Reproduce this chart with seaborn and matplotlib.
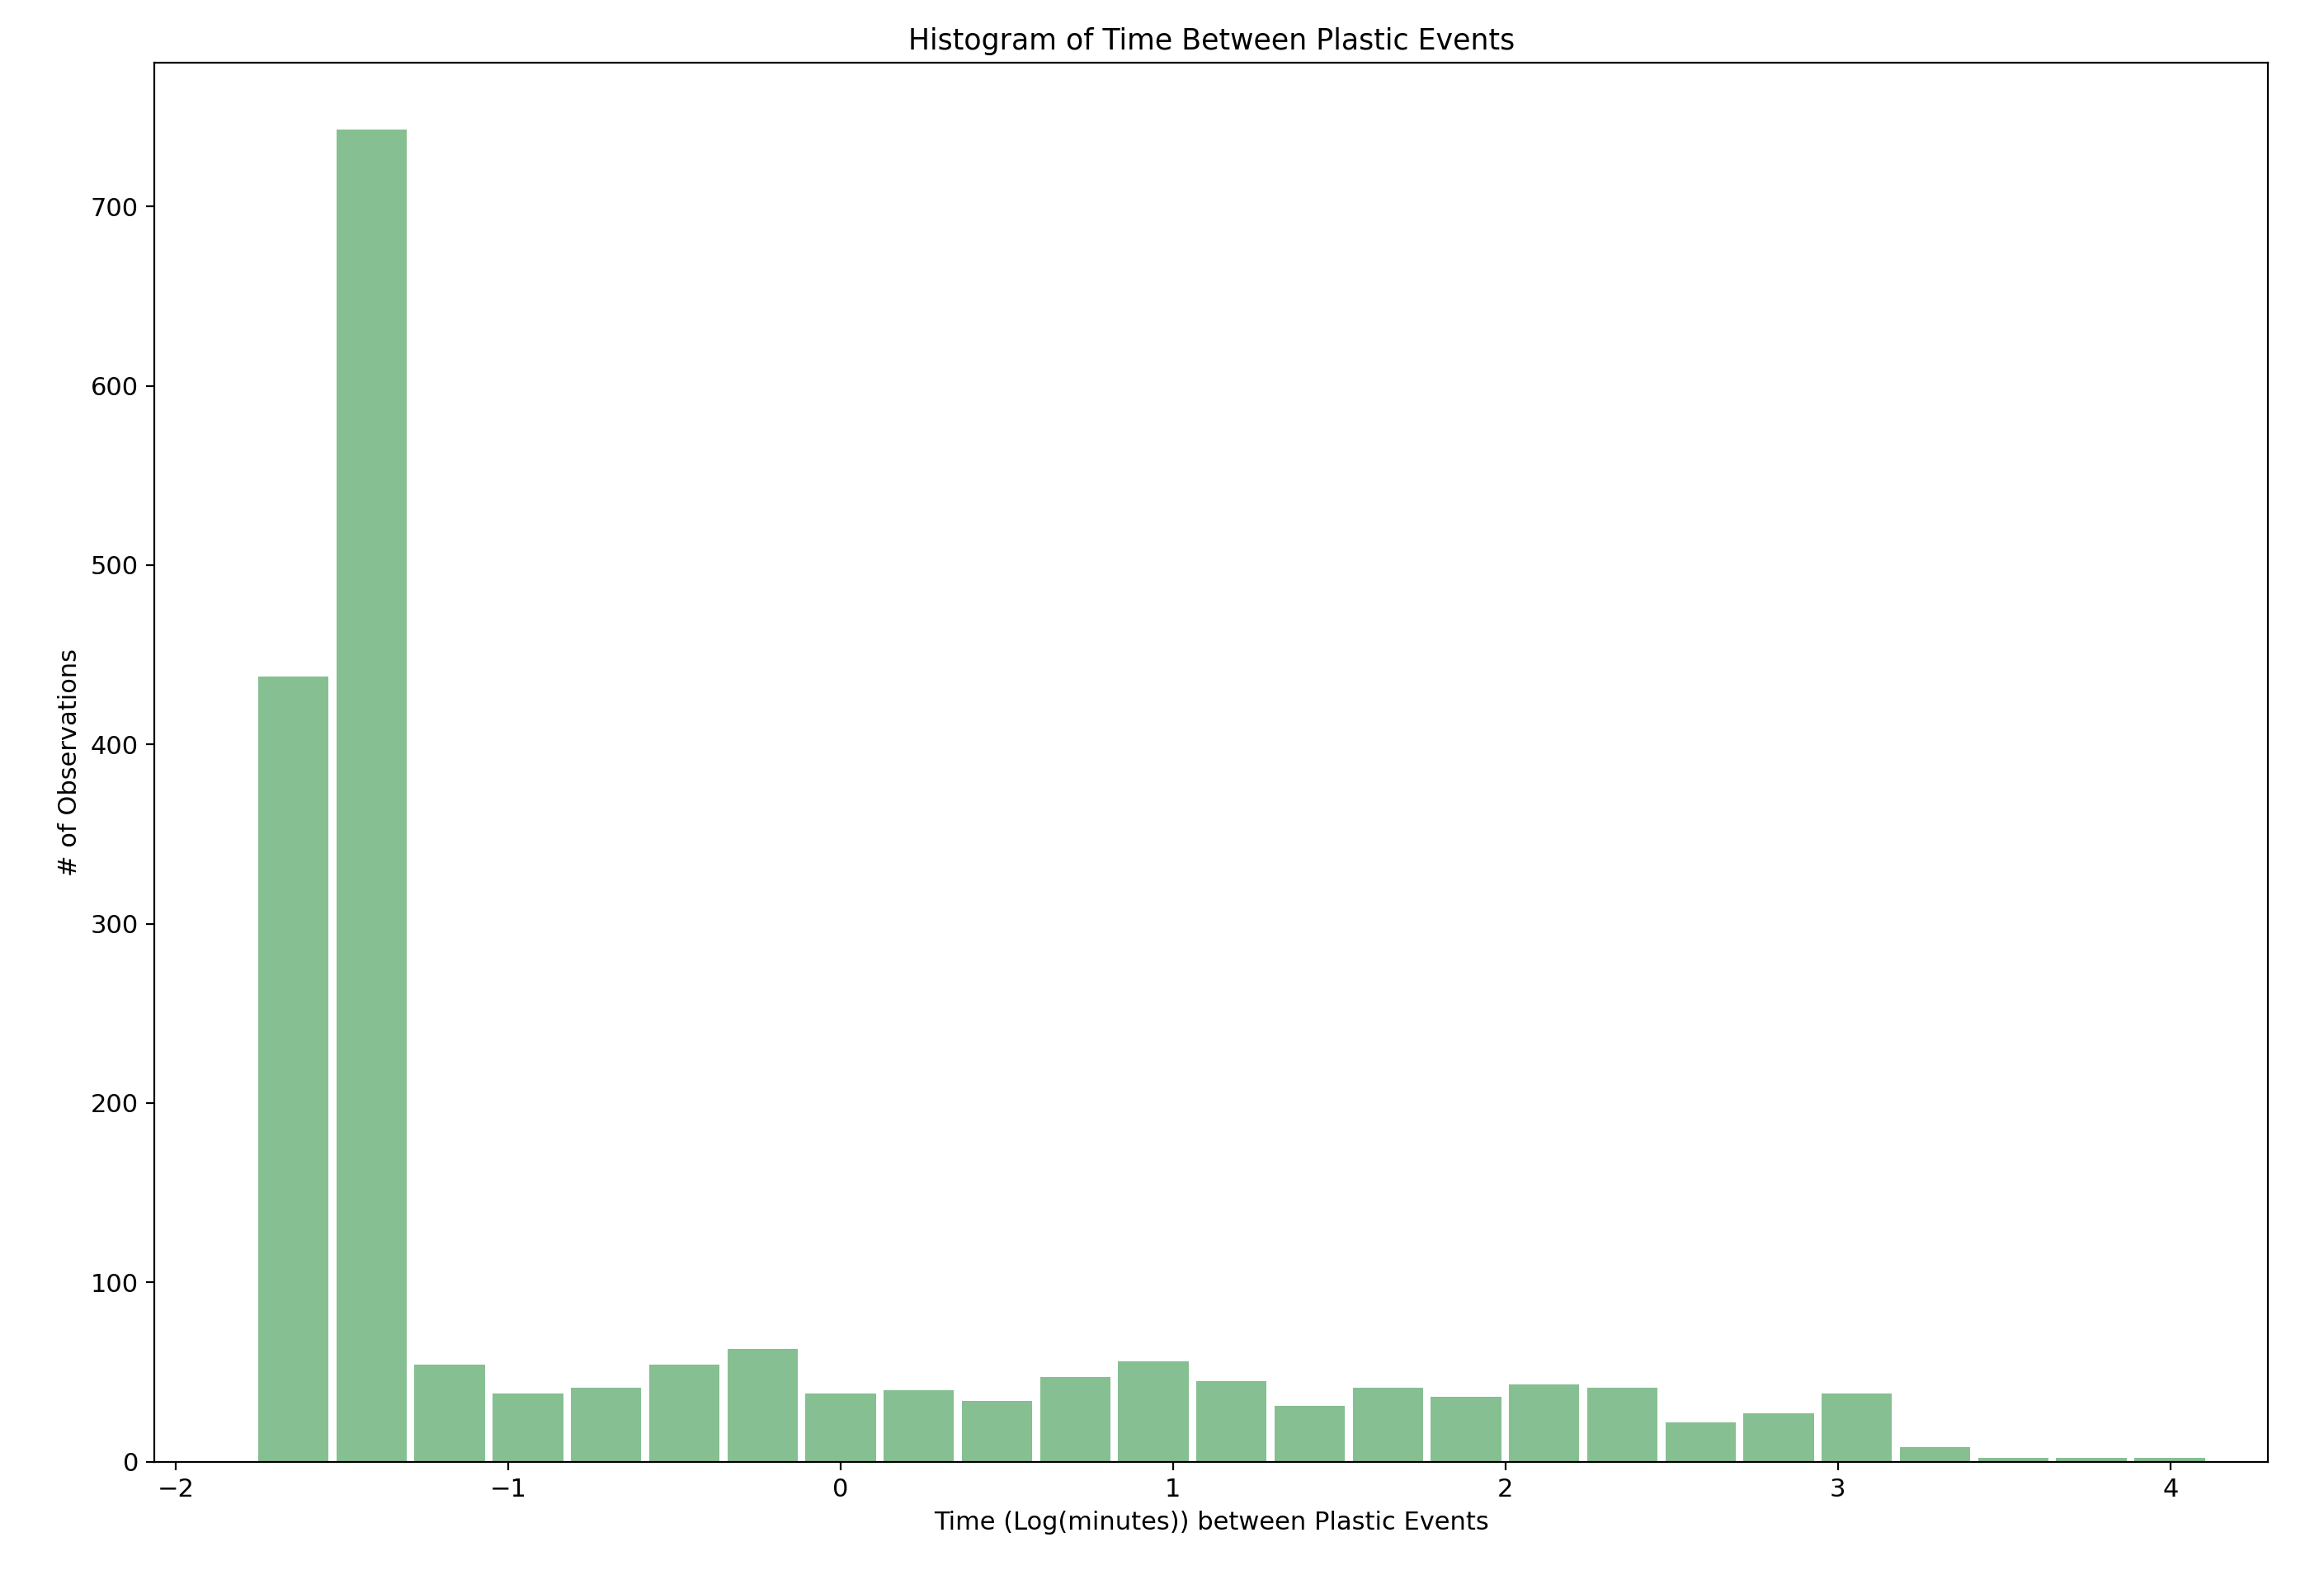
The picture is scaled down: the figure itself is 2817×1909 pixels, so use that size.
import numpy as np
import pandas as pd
import matplotlib
matplotlib.use("Agg")
import matplotlib.pyplot as plt
import seaborn as sns

# bin range and counts
bin_lo, bin_hi = -1.763, 4.115
counts = [438, 743, 54, 38, 41, 54, 63, 38, 40, 34, 47, 56, 45, 31, 41,
          36, 43, 41, 22, 27, 38, 8, 2, 2, 2]

n_bins = len(counts)
edges = np.linspace(bin_lo, bin_hi, n_bins + 1)
df = pd.DataFrame({"t": (edges[:-1] + edges[1:]) / 2, "n": counts})

plt.rcParams['font.family'] = ['DejaVu Sans']
fig = plt.figure(figsize=(14.085, 9.545), dpi=200)
ax = fig.add_axes([0.0665, 0.072, 0.9095, 0.888])

sns.histplot(data=df, x="t", weights="n", bins=n_bins, binrange=(bin_lo, bin_hi),
             shrink=0.9, color="#86bf91", alpha=1.0, edgecolor="none", ax=ax)

ax.set_xlim(-2.063, 4.294)
ax.set_ylim(0, 780)
ax.set_title("Histogram of Time Between Plastic Events", fontsize=12.5)
ax.set_xlabel("Time (Log(minutes)) between Plastic Events", fontsize=11)
ax.set_ylabel("# of Observations", fontsize=11)
ax.tick_params(labelsize=11)

fig.savefig("out.png", dpi=200)
